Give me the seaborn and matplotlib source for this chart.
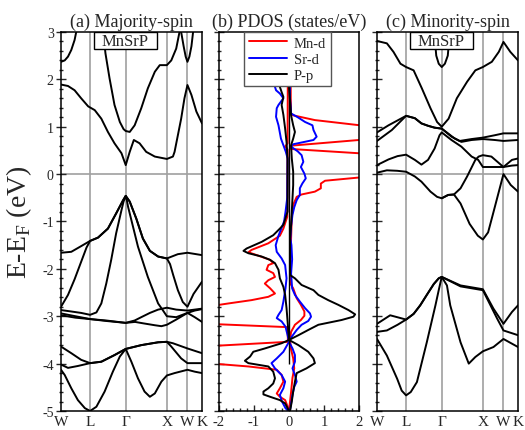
import matplotlib
matplotlib.use("Agg")
import matplotlib.pyplot as plt
from matplotlib.patches import Rectangle
from matplotlib.ticker import MultipleLocator
import pandas as pd
import seaborn as sns

# k-path W-L-G-X-W-K
k_labels = ["W", "L", "Γ", "X", "W", "K"]
k_ticks = [0.0, 0.707, 1.573, 2.573, 3.073, 3.427]

# ---- majority-spin bands, [k, E] ----
up_c1 = [[0.0, 1.89], [0.17, 1.86], [0.33, 1.77], [0.49, 1.60], [0.66, 1.43], [0.82, 1.35], [0.98, 1.17],
         [1.14, 0.89], [1.30, 0.65], [1.47, 0.44], [1.573, 0.19], [1.67, 0.47], [1.77, 0.72], [1.91, 0.65],
         [2.07, 0.47], [2.28, 0.37], [2.573, 0.32], [2.72, 0.37], [2.76, 0.47], [2.84, 0.82], [2.92, 1.17],
         [3.00, 1.60], [3.073, 1.88], [3.17, 1.67], [3.29, 1.32], [3.427, 1.07]]
up_c2 = [[0.0, 2.37], [0.09, 2.40], [0.17, 2.48], [0.25, 2.62], [0.33, 2.83], [0.37, 3.0], [0.41, 3.2]]
up_c3 = [[0.99, 3.3], [1.02, 3.05], [1.08, 2.55], [1.18, 2.02], [1.30, 1.46], [1.43, 1.10], [1.52, 0.95],
         [1.573, 0.91], [1.67, 0.89], [1.79, 1.03], [1.95, 1.39], [2.11, 1.81], [2.28, 2.16], [2.40, 2.30],
         [2.573, 2.30], [2.68, 2.40], [2.80, 2.65], [2.88, 3.0], [2.92, 3.2]]
up_c4 = [[2.90, 3.2], [2.92, 3.0], [2.98, 2.7], [3.03, 2.48], [3.073, 2.37], [3.12, 2.48], [3.17, 2.7],
         [3.21, 3.0], [3.23, 3.2]]
up_v1 = [[0.0, -1.66], [0.25, -1.64], [0.49, -1.52], [0.707, -1.41], [0.90, -1.34], [1.14, -1.15],
         [1.34, -0.83], [1.51, -0.55], [1.573, -0.46], [1.67, -0.58], [1.83, -0.94], [1.99, -1.36],
         [2.16, -1.62], [2.36, -1.74], [2.573, -1.78], [2.84, -1.69], [3.073, -1.66], [3.427, -1.71]]
up_v2 = [[0.0, -2.80], [0.17, -2.55], [0.33, -2.22], [0.49, -1.85], [0.62, -1.55], [0.707, -1.41],
         [0.90, -1.34], [1.14, -1.15], [1.34, -0.83], [1.51, -0.55], [1.573, -0.46], [1.67, -0.58],
         [1.83, -0.94], [1.99, -1.36], [2.16, -1.62], [2.36, -1.74], [2.573, -1.78], [2.65, -1.90],
         [2.73, -2.14], [2.84, -2.45], [2.96, -2.70], [3.073, -2.80], [3.22, -2.53], [3.427, -2.27]]
up_v3 = [[0.0, -2.87], [0.25, -2.90], [0.49, -2.93], [0.707, -2.97], [0.86, -2.92], [0.98, -2.73],
         [1.10, -2.31], [1.22, -1.81], [1.34, -1.25], [1.47, -0.76], [1.52, -0.58], [1.573, -0.46],
         [1.60, -0.55], [1.63, -0.69], [1.87, -1.53], [2.11, -2.17], [2.36, -2.73], [2.48, -2.88],
         [2.573, -3.0], [2.80, -3.02], [3.073, -2.93], [3.25, -2.88], [3.427, -2.85]]
up_d1 = [[0.0, -2.94], [0.35, -3.00], [0.707, -3.06], [1.10, -3.09], [1.573, -3.14], [1.79, -3.09],
         [1.95, -3.02], [2.16, -2.93], [2.36, -2.86], [2.573, -2.82], [2.80, -2.86], [3.073, -2.88],
         [3.25, -2.86], [3.427, -2.84]]
up_d2 = [[0.0, -2.98], [0.35, -3.03], [0.707, -3.06], [1.10, -3.10], [1.573, -3.14], [1.80, -3.12],
         [2.00, -3.15], [2.28, -3.19], [2.44, -3.21], [2.573, -3.18], [2.80, -3.07], [3.073, -2.93],
         [3.25, -3.02], [3.427, -3.12]]
up_l1 = [[0.0, -3.64], [0.25, -3.78], [0.49, -3.92], [0.707, -3.99], [0.98, -3.96], [1.30, -3.82],
         [1.573, -3.69], [1.95, -3.61], [2.36, -3.55], [2.573, -3.54], [2.72, -3.57], [3.073, -3.68],
         [3.427, -3.78]]
up_l2 = [[0.0, -4.02], [0.17, -4.09], [0.41, -4.05], [0.707, -3.99], [0.98, -3.96], [1.30, -3.82],
         [1.573, -3.69], [1.95, -3.61], [2.36, -3.55], [2.573, -3.54], [2.68, -3.64], [2.92, -3.89],
         [3.073, -3.99], [3.427, -3.99]]
up_l3 = [[0.0, -4.13], [0.09, -4.24], [0.25, -4.52], [0.41, -4.77], [0.58, -4.94], [0.707, -5.00],
         [0.86, -4.91], [1.06, -4.59], [1.26, -4.17], [1.43, -3.85], [1.573, -3.69], [1.71, -3.96],
         [1.87, -4.31], [2.03, -4.59], [2.16, -4.70], [2.28, -4.63], [2.44, -4.38], [2.573, -4.25],
         [2.76, -4.20], [3.073, -4.13], [3.25, -4.17], [3.427, -4.20]]

# ---- minority-spin bands, [k, E] ----
dn_c1 = [[0.0, 2.81], [0.24, 2.76], [0.40, 2.58], [0.57, 2.33], [0.707, 2.26], [0.89, 2.19], [1.09, 1.81],
         [1.30, 1.39], [1.46, 1.10], [1.573, 1.00], [1.74, 1.17], [1.94, 1.60], [2.19, 1.95], [2.39, 2.19],
         [2.573, 2.26], [2.79, 2.37], [2.96, 2.58], [3.073, 2.79], [3.24, 2.58], [3.427, 2.40]]
dn_c2 = [[1.38, 3.1], [1.44, 2.5], [1.50, 2.33], [1.573, 2.26], [1.65, 2.33], [1.72, 2.5], [1.78, 3.1]]
dn_m1a = [[0.0, 0.88], [0.28, 1.03], [0.707, 1.23], [0.92, 1.18], [1.08, 1.07], [1.24, 1.02], [1.40, 0.98],
          [1.573, 0.96], [1.81, 0.79], [2.01, 0.70], [2.30, 0.74], [2.573, 0.77], [2.86, 0.82],
          [3.073, 0.86], [3.427, 0.86]]
dn_m1b = [[0.0, 0.70], [0.36, 0.93], [0.707, 1.23], [0.92, 1.18], [1.08, 1.07], [1.24, 1.02], [1.40, 0.98],
          [1.573, 0.96], [1.89, 0.75], [2.05, 0.68], [2.30, 0.72], [2.573, 0.74], [2.86, 0.72],
          [3.073, 0.70], [3.427, 0.72]]
dn_m2 = [[0.0, 0.19], [0.28, 0.31], [0.50, 0.38], [0.707, 0.41], [0.92, 0.30], [1.08, 0.20], [1.24, 0.30],
         [1.40, 0.54], [1.52, 0.82], [1.573, 0.88], [1.81, 0.72], [2.05, 0.58], [2.30, 0.37], [2.46, 0.30],
         [2.573, 0.15], [2.86, 0.15], [3.073, 0.15], [3.28, 0.18], [3.427, 0.19]]
dn_m3 = [[0.0, 0.03], [0.24, 0.08], [0.49, 0.07], [0.707, 0.05], [0.92, -0.05], [1.08, -0.16],
         [1.30, -0.37], [1.46, -0.48], [1.573, -0.51], [1.73, -0.44], [1.87, -0.43], [2.03, -0.62],
         [2.25, -1.05], [2.45, -1.30], [2.573, -1.38], [2.70, -1.23], [2.81, -0.87], [2.94, -0.44],
         [3.073, 0.0], [3.25, -0.23], [3.427, -0.37]]
dn_m4 = [[1.573, -0.51], [1.73, -0.44], [1.87, -0.43], [2.03, -0.30], [2.19, -0.05], [2.39, 0.30],
         [2.47, 0.37], [2.573, 0.40], [2.78, 0.37], [2.94, 0.25], [3.073, 0.15], [3.28, 0.30], [3.427, 0.33]]
dn_m5a = [[0.0, -3.16], [0.32, -2.98], [0.707, -3.07], [0.89, -2.95], [1.05, -2.77], [1.21, -2.55],
          [1.38, -2.32], [1.50, -2.20], [1.573, -2.17], [2.03, -2.35], [2.573, -2.43], [2.83, -2.84],
          [3.073, -3.16], [3.28, -2.91], [3.427, -2.77]]
dn_m5b = [[0.0, -3.33], [0.24, -3.30], [0.50, -3.18], [0.707, -3.07], [0.89, -2.95], [1.05, -2.77],
          [1.21, -2.55], [1.38, -2.32], [1.50, -2.20], [1.573, -2.17], [2.03, -2.37], [2.573, -2.45],
          [2.92, -3.05], [3.073, -3.30], [3.427, -3.40]]
dn_m6 = [[0.0, -3.48], [0.24, -3.83], [0.49, -4.32], [0.60, -4.57], [0.707, -4.67], [0.82, -4.60],
         [0.97, -4.39], [1.21, -3.55], [1.42, -2.77], [1.50, -2.45], [1.573, -2.17], [1.70, -2.35],
         [1.78, -2.77], [2.03, -3.55], [2.23, -4.00], [2.39, -3.86], [2.573, -3.74], [2.83, -3.65],
         [3.073, -3.48], [3.427, -3.65]]

# ---- PDOS, [E, states/eV]; majority > 0, minority < 0 ----
mn_up = [[3.0, 0.05], [1.60, 0.05], [1.28, 0.06], [1.24, 0.12], [1.14, 0.74], [1.03, 2.03], [0.88, 5.0],
         [0.72, 2.0], [0.60, 0.06], [0.53, 0.06], [0.44, 2.0], [0.19, 5.0], [-0.07, 2.03], [-0.14, 1.03],
         [-0.20, 0.91], [-0.30, 0.91], [-0.37, 0.74], [-0.43, 0.36], [-0.48, 0.22], [-0.65, 0.12],
         [-0.90, 0.08], [-1.36, 0.06], [-2.30, 0.03], [-2.41, 0.12], [-2.62, 0.22], [-2.76, 0.34],
         [-2.90, 0.44], [-2.99, 0.44], [-3.08, 0.34], [-3.18, 0.17], [-3.33, 0.06], [-3.50, 0.03],
         [-3.70, 0.06], [-3.89, 0.12], [-4.10, 0.15], [-4.30, 0.10], [-4.60, 0.06], [-5.0, 0.0]]
mn_dn = [[3.0, -0.03], [0.65, -0.04], [0.58, -0.11], [0.52, -0.04], [-0.90, -0.05], [-1.15, -0.16],
         [-1.30, -0.26], [-1.46, -0.59], [-1.60, -1.07], [-1.65, -1.16], [-1.71, -0.92], [-1.81, -0.54],
         [-1.88, -0.45], [-1.92, -0.59], [-2.02, -0.64], [-2.09, -0.45], [-2.17, -0.40], [-2.24, -0.59],
         [-2.31, -0.69], [-2.41, -0.54], [-2.52, -0.40], [-2.59, -0.59], [-2.66, -1.07], [-2.73, -1.73],
         [-2.76, -2.0], [-2.95, -5.0], [-3.17, -2.0], [-3.23, -0.04], [-3.54, -0.03], [-3.62, -2.0],
         [-3.80, -5.0], [-4.01, -2.0], [-4.06, -1.16], [-4.13, -0.35], [-4.24, -0.21], [-4.38, -0.16],
         [-4.52, -0.26], [-4.63, -0.35], [-4.70, -0.26], [-4.77, -0.11], [-4.98, 0.0]]
sr_up = [[3.0, 0.02], [1.60, 0.03], [1.28, 0.06], [1.20, 0.25], [1.10, 0.46], [1.03, 0.67], [0.93, 0.70],
         [0.79, 0.79], [0.72, 0.70], [0.63, 0.12], [0.58, 0.06], [0.48, 0.25], [0.40, 0.36], [0.26, 0.41],
         [0.15, 0.34], [0.01, 0.44], [-0.09, 0.48], [-0.20, 0.38], [-0.30, 0.31], [-0.44, 0.31],
         [-0.55, 0.22], [-0.70, 0.15], [-0.86, 0.10], [-1.10, 0.06], [-1.36, 0.04], [-1.50, 0.07],
         [-1.80, 0.09], [-2.10, 0.06], [-2.41, 0.09], [-2.55, 0.17], [-2.69, 0.31], [-2.83, 0.46],
         [-2.94, 0.60], [-3.01, 0.63], [-3.10, 0.55], [-3.18, 0.36], [-3.29, 0.22], [-3.43, 0.08],
         [-3.54, 0.0], [-3.68, 0.10], [-3.82, 0.17], [-3.96, 0.17], [-4.10, 0.10], [-4.24, 0.17],
         [-4.38, 0.22], [-4.49, 0.15], [-4.66, 0.10], [-4.98, 0.03]]
sr_dn = [[3.0, -0.10], [2.0, -0.30], [1.84, -0.40], [1.77, -0.37], [1.70, -0.26], [1.60, -0.16],
         [1.46, -0.30], [1.39, -0.35], [1.21, -0.37], [1.03, -0.30], [0.75, -0.23], [0.61, -0.16],
         [0.47, -0.09], [0.33, -0.04], [-0.50, -0.05], [-0.80, -0.10], [-1.00, -0.14], [-1.15, -0.22],
         [-1.30, -0.30], [-1.50, -0.38], [-1.64, -0.35], [-1.78, -0.21], [-1.92, -0.11], [-2.20, -0.07],
         [-2.41, -0.10], [-2.69, -0.16], [-2.87, -0.21], [-2.97, -0.30], [-3.04, -0.35], [-3.11, -0.21],
         [-3.22, -0.10], [-3.40, -0.04], [-3.54, 0.0], [-3.75, -0.16], [-3.89, -0.35], [-3.99, -0.50],
         [-4.10, -0.40], [-4.24, -0.21], [-4.38, -0.11], [-4.52, -0.16], [-4.66, -0.26], [-4.80, -0.20],
         [-4.94, -0.10], [-5.0, -0.02]]
pp_up = [[3.0, 0.0], [1.84, 0.0], [1.24, 0.06], [1.03, 0.12], [0.89, 0.17], [0.75, 0.12], [0.61, 0.06],
         [0.33, 0.08], [0.05, 0.12], [-0.23, 0.12], [-0.51, 0.10], [-1.07, 0.06], [-1.36, 0.03],
         [-2.13, 0.03], [-2.20, 0.17], [-2.34, 0.36], [-2.45, 0.70], [-2.55, 0.84], [-2.66, 1.12],
         [-2.76, 1.41], [-2.87, 1.70], [-2.96, 1.89], [-3.01, 1.84], [-3.08, 1.50], [-3.18, 0.84],
         [-3.29, 0.55], [-3.40, 0.27], [-3.50, 0.0], [-3.61, 0.27], [-3.75, 0.55], [-3.89, 0.70],
         [-3.99, 0.74], [-4.10, 0.50], [-4.20, 0.22], [-4.38, 0.17], [-4.59, 0.12], [-4.80, 0.08], [-5.0, 0.03]]
pp_dn = [[3.0, -0.20], [1.84, -0.26], [1.73, -0.21], [1.63, -0.16], [1.46, -0.21], [1.25, -0.16],
         [0.96, -0.11], [0.68, -0.07], [0.30, -0.04], [-0.79, -0.04], [-1.07, -0.16], [-1.15, -0.26],
         [-1.29, -0.45], [-1.43, -0.78], [-1.57, -1.21], [-1.62, -1.30], [-1.67, -1.16], [-1.74, -0.78],
         [-1.81, -0.54], [-1.88, -0.40], [-2.02, -0.30], [-2.20, -0.26], [-2.38, -0.16], [-2.55, -0.11],
         [-2.83, -0.07], [-3.20, -0.03], [-3.50, 0.0], [-3.57, -0.21], [-3.68, -0.69], [-3.75, -1.02],
         [-3.85, -1.11], [-3.94, -1.26], [-3.99, -1.16], [-4.06, -0.59], [-4.17, -0.45], [-4.31, -0.40],
         [-4.42, -0.45], [-4.52, -0.59], [-4.59, -0.73], [-4.65, -0.73], [-4.70, -0.54], [-4.77, -0.26],
         [-4.84, -0.11], [-4.94, -0.04], [-5.0, 0.0]]
zero_line_bottom = -4.0  # the thin black x=0 line in (b) stops here

bands_up = [up_c1, up_c2, up_c3, up_c4, up_v1, up_v2, up_v3, up_d1, up_d2, up_l1, up_l2, up_l3]
bands_dn = [dn_c1, dn_c2, dn_m1a, dn_m1b, dn_m2, dn_m3, dn_m4, dn_m5a, dn_m5b, dn_m6]
pdos = [("Mn-d", "#ff0000", mn_up, mn_dn), ("Sr-d", "#0000ff", sr_up, sr_dn), ("P-p", "black", pp_up, pp_dn)]

sns.set_style("ticks")
plt.rcParams['font.family'] = 'serif'
plt.rcParams['font.serif'] = ['Liberation Serif', 'DejaVu Serif']
plt.rcParams['mathtext.fontset'] = 'custom'
plt.rcParams['mathtext.rm'] = 'Liberation Serif'
plt.rcParams['axes.unicode_minus'] = False
plt.rcParams['axes.linewidth'] = 1.1
plt.rcParams['axes.edgecolor'] = 'black'

fig = plt.figure(figsize=(5.25, 4.31), dpi=100)
ax_a = fig.add_axes([0.1162, 0.0441, 0.2686, 0.8794])
ax_b = fig.add_axes([0.4171, 0.0441, 0.2667, 0.8794])
ax_c = fig.add_axes([0.7181, 0.0441, 0.2686, 0.8794])
grey = '#a0a0a0'


def style_y(ax, labels):
    ax.set_ylim(-5, 3)
    ax.yaxis.set_major_locator(MultipleLocator(1))
    ax.yaxis.set_minor_locator(MultipleLocator(0.2))
    ax.tick_params(axis='y', which='major', direction='inout', length=7.5, width=1, pad=1.5,
                   labelsize=10, labelleft=labels)
    ax.tick_params(axis='y', which='minor', direction='inout', length=3.5, width=1)
    ax.set_ylabel('')
    ax.axhline(0, color=grey, lw=1.2, zorder=0)


def draw_bands(ax, bands, title):
    for b in bands:
        d = pd.DataFrame(b, columns=["k", "E"])
        sns.lineplot(data=d, x="k", y="E", ax=ax, color="black", lw=1.4, sort=False, estimator=None)
    for k in k_ticks[1:-1]:
        ax.axvline(k, color=grey, lw=1.2, zorder=0)
    ax.set_xlim(k_ticks[0], k_ticks[-1])
    ax.set_xticks(k_ticks)
    ax.set_xticklabels(k_labels)
    ax.tick_params(axis='x', length=0, pad=3, labelsize=11)
    ax.set_xlabel('')
    ax.set_title(title, fontsize=13, pad=4)
    ax.add_patch(Rectangle((0.234, 0.955), 0.446, 0.045, transform=ax.transAxes,
                           facecolor='white', edgecolor='black', lw=1, zorder=5))
    ax.text(0.457, 0.977, "MnSrP", transform=ax.transAxes, ha='center', va='center',
            fontsize=12, zorder=6)


draw_bands(ax_a, bands_up, "(a) Majority-spin")
style_y(ax_a, True)
ax_a.set_ylabel("E-E$_\\mathrm{F}$ (eV)", fontsize=20, labelpad=6)

draw_bands(ax_c, bands_dn, "(c) Minority-spin")
style_y(ax_c, False)

for name, col, up, dn in pdos:
    d_up = pd.DataFrame(up, columns=["E", "dos"])
    d_dn = pd.DataFrame(dn, columns=["E", "dos"])
    sns.lineplot(data=d_up, x="dos", y="E", ax=ax_b, color=col, lw=1.4, sort=False,
                 estimator=None, label=name)
    sns.lineplot(data=d_dn, x="dos", y="E", ax=ax_b, color=col, lw=1.4, sort=False, estimator=None)
ax_b.vlines(0, zero_line_bottom, 3, color='black', lw=1.0, zorder=4)
style_y(ax_b, False)
ax_b.set_xlim(-2, 2)
ax_b.xaxis.set_major_locator(MultipleLocator(1))
ax_b.xaxis.set_minor_locator(MultipleLocator(0.2))
ax_b.tick_params(axis='x', which='major', direction='in', length=4, width=1, pad=3, labelsize=10.5)
ax_b.tick_params(axis='x', which='minor', direction='in', length=2, width=1)
ax_b.set_xlabel('')
ax_b.set_title("(b) PDOS (states/eV)", fontsize=13, pad=4)
leg = ax_b.legend(loc='upper center', bbox_to_anchor=(0.49, 1.0), borderaxespad=0, fontsize=10.5,
                  handlelength=2.6, fancybox=False, framealpha=1, edgecolor='#555555',
                  borderpad=0.3, labelspacing=0.2, handletextpad=0.5)
leg.get_frame().set_linewidth(1.0)

fig.savefig("out.png", dpi=100)
